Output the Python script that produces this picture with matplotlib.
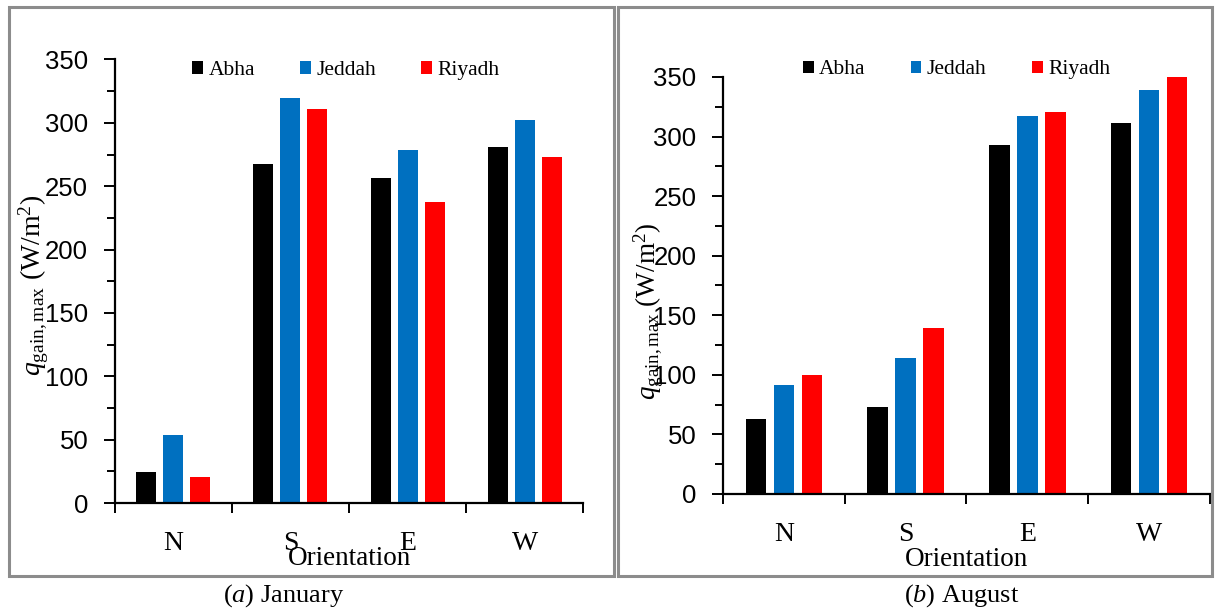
import numpy as np
import matplotlib.pyplot as plt
from matplotlib.patches import Rectangle
from matplotlib.ticker import MultipleLocator, FixedLocator

# ── Data ──────────────────────────────────────────────────────
orientations = ['N', 'S', 'E', 'W']
cities       = ['Abha', 'Jeddah', 'Riyadh']
colors       = ['#000000', '#0070C0', '#FF0000']

jan_abha   = [24.5, 267.5, 256.4, 281.0]
jan_jeddah = [53.7, 319.6, 278.5, 302.1]
jan_riyadh = [20.6, 310.7, 237.4, 273.0]

aug_abha   = [63.1, 73.2, 293.1, 311.3]
aug_jeddah = [91.4, 114.2, 317.2, 339.0]
aug_riyadh = [99.9, 139.2, 320.8, 350.0]

captions = [r'($\mathit{a}$) January', r'($\mathit{b}$) August']

SERIF = 'Liberation Serif'
SANS  = 'Liberation Sans'

plt.rcParams['mathtext.fontset'] = 'custom'
plt.rcParams['mathtext.rm'] = SERIF
plt.rcParams['mathtext.it'] = SERIF + ':italic'

fig = plt.figure(figsize=(12.18, 6.10), dpi=100)

# gray frames round each panel
for x0, x1 in [(9, 614), (618, 1212)]:
    fig.add_artist(Rectangle((x0 / 1218, 1 - 576 / 610), (x1 - x0) / 1218, (576 - 7) / 610,
                             transform=fig.transFigure, fill=False,
                             edgecolor='#8c8c8c', lw=2.2))

ax1 = fig.add_axes([0.0941, 0.1754, 0.3849, 0.7271])
ax2 = fig.add_axes([0.5936, 0.1902, 0.3998, 0.6836])

def draw(ax, series, ylab_x, ylab_y, ylab_size, orient_y, leg_x, leg_y):
    x = np.arange(len(orientations))
    w = 0.17
    offs = [-0.23, 0.0, 0.23]
    for vals, c, o, name in zip(series, colors, offs, cities):
        ax.bar(x + o, vals, width=w, color=c, label=name, zorder=2)
    ax.set_xlim(-0.5, 3.5)
    ax.set_ylim(0, 350)
    for s in ['top', 'right']:
        ax.spines[s].set_visible(False)
    for s in ['left', 'bottom']:
        ax.spines[s].set_linewidth(1.6)
    ax.yaxis.set_major_locator(MultipleLocator(50))
    ax.yaxis.set_minor_locator(MultipleLocator(25))
    ax.tick_params(axis='y', which='major', length=8, width=1.4, pad=11, labelsize=18.5)
    ax.tick_params(axis='y', which='minor', length=6, width=1.4)
    for t in ax.get_yticklabels():
        t.set_fontfamily(SANS)
    ax.set_xticks(x)
    ax.set_xticklabels(orientations, fontfamily=SERIF, fontsize=20)
    ax.xaxis.set_minor_locator(FixedLocator([-0.5, 0.5, 1.5, 2.5, 3.5]))
    ax.tick_params(axis='x', which='major', length=0, pad=20)
    ax.tick_params(axis='x', which='minor', length=7, width=1.4, direction='out')
    ax.set_ylabel(r'$q_{\mathrm{gain,max}}$ (W/m$^2$)', fontfamily=SERIF, fontsize=ylab_size)
    ax.yaxis.set_label_coords(ylab_x, ylab_y)
    ax.text(0.5, orient_y, 'Orientation', transform=ax.transAxes, ha='center',
            va='center', fontfamily=SERIF, fontsize=19.5)
    ax.legend(loc='center left', bbox_to_anchor=(leg_x, leg_y), ncol=3, frameon=False,
              borderpad=0, borderaxespad=0,
              handlelength=0.5, handleheight=0.5, handletextpad=0.25, columnspacing=2.1,
              prop={'family': SERIF, 'size': 15.5})

draw(ax1, [jan_abha, jan_jeddah, jan_riyadh], -0.136, 0.491, 20, -0.126, 0.166, 0.975)
draw(ax2, [aug_abha, aug_jeddah, aug_riyadh], -0.118, 0.439, 19.5, -0.156, 0.164, 1.017)

fig.text(284 / 1218, 1 - 596 / 610, captions[0], ha='center', va='center',
         fontfamily=SERIF, fontsize=19)
fig.text(962 / 1218, 1 - 596 / 610, captions[1], ha='center', va='center',
         fontfamily=SERIF, fontsize=19)

fig.savefig('out.png', dpi=100)
